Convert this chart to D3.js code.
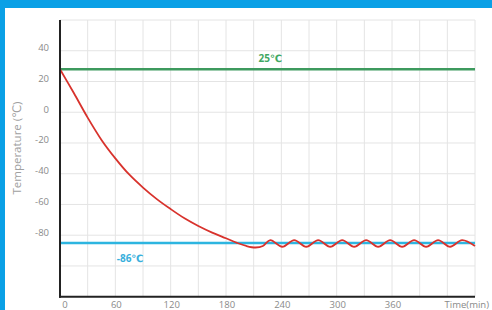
<!DOCTYPE html>
<html>
<head>
<meta charset="utf-8">
<script src="https://cdn.jsdelivr.net/npm/d3@7"></script>
<style>
  body { margin: 0; background: #fff; }
  svg { display: block; font-family: "Open Sans", "DejaVu Sans", sans-serif; }
</style>
</head>
<body>
<svg id="chart" width="492" height="310"></svg>
<script>
// data
const xTicks = [0, 60, 120, 180, 240, 300, 360];
const xGrid = [0, 30, 60, 90, 120, 150, 180, 210, 240, 270, 300, 330, 360, 390, 420, 450];
const yTicks = [40, 20, 0, -20, -40, -60, -80];
const yGrid = [60, 40, 20, 0, -20, -40, -60, -80, -100];
const roomLevel = 28;     // drawn line for 25℃
const roomLabel = "25℃";
const coldLevel = -85;    // drawn line for -86℃
const coldLabel = "-86℃";
const coolTime = [0, 15, 30, 45, 60, 75, 90, 105, 120, 135, 150, 165, 180, 192, 202, 212, 220,
                  228, 241, 254, 267, 280, 293, 306, 319, 332, 345, 358, 371, 384, 397, 410, 423, 436, 450];
const coolTemp = [28, 12.5, -3.5, -18, -30, -40.5, -49, -56.5, -63, -69, -74, -78.3, -82, -85, -87, -88, -87,
                  -83.2, -87.5, -83.2, -87.5, -83.2, -87.5, -83.2, -87.5, -83.2, -87.5, -83.2, -87.5, -83.2, -87.5, -83.2, -87.5, -83.2, -87];

const svg = d3.select("#chart");

// blue frame on top and left
svg.append("rect").attr("x", 0).attr("y", 0).attr("width", 492).attr("height", 8).attr("fill", "#0aa0e6");
svg.append("rect").attr("x", 0).attr("y", 0).attr("width", 5).attr("height", 310).attr("fill", "#0aa0e6");

const x = d3.scaleLinear().domain([0, 450]).range([60, 475]);
const y = d3.scaleLinear().domain([-120, 60]).range([296.7, 20]);

// grid
svg.append("g")
    .selectAll("line")
    .data(xGrid)
    .join("line")
    .attr("x1", d => x(d)).attr("x2", d => x(d))
    .attr("y1", y(60)).attr("y2", y(-120))
    .attr("stroke", "#e4e4e4")
    .attr("stroke-width", 1);

svg.append("g")
    .selectAll("line")
    .data(yGrid)
    .join("line")
    .attr("x1", x(0)).attr("x2", x(450))
    .attr("y1", d => y(d)).attr("y2", d => y(d))
    .attr("stroke", "#e4e4e4")
    .attr("stroke-width", 1);

// reference levels
svg.append("line")
    .attr("x1", x(0)).attr("x2", x(450))
    .attr("y1", y(roomLevel)).attr("y2", y(roomLevel))
    .attr("stroke", "#3d9a5e")
    .attr("stroke-width", 2.5);

svg.append("line")
    .attr("x1", x(0)).attr("x2", x(450))
    .attr("y1", y(coldLevel)).attr("y2", y(coldLevel))
    .attr("stroke", "#2db5e0")
    .attr("stroke-width", 2.5);

svg.append("text")
    .attr("x", x(228)).attr("y", y(roomLevel) - 7)
    .attr("text-anchor", "middle")
    .attr("font-size", 10).attr("font-weight", "bold")
    .attr("fill", "#3fa862")
    .text(roomLabel);

svg.append("text")
    .attr("x", x(76)).attr("y", y(coldLevel) + 19)
    .attr("text-anchor", "middle")
    .attr("font-size", 10).attr("font-weight", "bold")
    .attr("fill", "#38afdc")
    .text(coldLabel);

// cooling curve
const pts = coolTime.map((t, i) => [t, coolTemp[i]]);
const line = d3.line()
    .x(d => x(d[0]))
    .y(d => y(d[1]))
    .curve(d3.curveCatmullRom.alpha(0.5));

svg.append("path")
    .datum(pts)
    .attr("d", line)
    .attr("fill", "none")
    .attr("stroke", "#d8322c")
    .attr("stroke-width", 1.8);

// axes lines
svg.append("line")
    .attr("x1", x(0)).attr("x2", x(0))
    .attr("y1", y(60)).attr("y2", y(-120) + 1)
    .attr("stroke", "#222").attr("stroke-width", 2);
svg.append("line")
    .attr("x1", x(0) - 1).attr("x2", x(450))
    .attr("y1", y(-120)).attr("y2", y(-120))
    .attr("stroke", "#222").attr("stroke-width", 2);

// tick labels
svg.append("g")
    .attr("font-size", 9.5)
    .attr("fill", "#8a8a8a")
    .attr("text-anchor", "end")
    .selectAll("text")
    .data(yTicks)
    .join("text")
    .attr("x", 49)
    .attr("y", d => y(d))
    .attr("dy", "0.05em")
    .text(d => d);

svg.append("g")
    .attr("font-size", 9.5)
    .attr("fill", "#8a8a8a")
    .attr("text-anchor", "middle")
    .selectAll("text")
    .data(xTicks)
    .join("text")
    .attr("x", d => x(d) + (d === 0 ? 5 : 1))
    .attr("y", 308)
    .text(d => d);

svg.append("text")
    .attr("x", 489).attr("y", 308)
    .attr("text-anchor", "end")
    .attr("font-size", 9.5)
    .attr("fill", "#8a8a8a")
    .text("Time(min)");

svg.append("text")
    .attr("transform", "translate(21,148) rotate(-90)")
    .attr("text-anchor", "middle")
    .attr("font-size", 11.5)
    .attr("fill", "#a0a0a0")
    .text("Temperature (℃)");
</script>
</body>
</html>
